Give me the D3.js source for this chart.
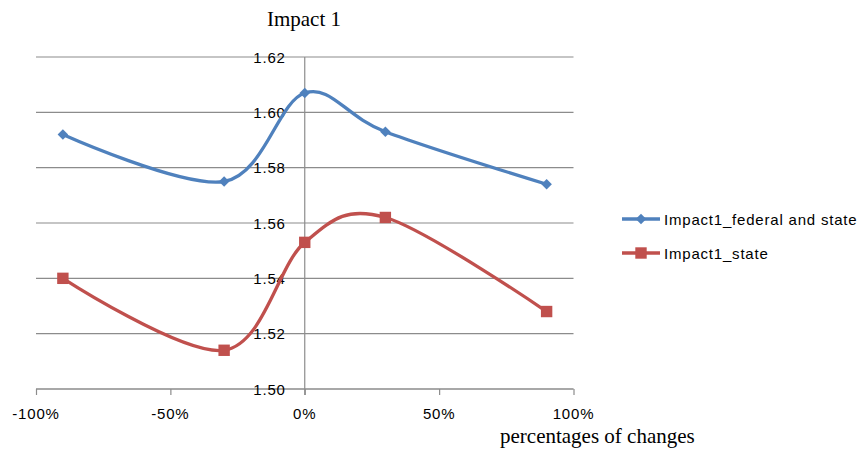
<!DOCTYPE html>
<html>
<head>
<meta charset="utf-8">
<script src="https://cdn.jsdelivr.net/npm/d3@7"></script>
<style>
  html, body { margin: 0; padding: 0; background: #fff; }
  svg { display: block; }
  .sans { font-family: "Liberation Sans", Arial, sans-serif; font-size: 15px; letter-spacing: 0.8px; fill: #000; }
  .serif { font-family: "Liberation Serif", "Times New Roman", serif; font-size: 21px; fill: #000; }
</style>
</head>
<body>
<svg id="chart" width="857" height="454"></svg>
<script>
// Percentage change on the x axis (as fractions)
const changes = [-0.9, -0.3, 0, 0.3, 0.9];
// Impact values for each series
const federalAndState = [1.592, 1.575, 1.607, 1.593, 1.574];
const stateOnly = [1.540, 1.514, 1.553, 1.562, 1.528];
const seriesNames = ["Impact1_federal and state", "Impact1_state"];
const seriesColors = ["#4F81BD", "#C0504D"];
const yTicks = [1.50, 1.52, 1.54, 1.56, 1.58, 1.60, 1.62];
const xTicks = [-1, -0.5, 0, 0.5, 1];

const svg = d3.select("#chart");
const plotLeft = 36, plotRight = 573.5, plotTop = 57, plotBottom = 389;

const x = d3.scaleLinear().domain([-1, 1]).range([plotLeft, plotRight]);
const y = d3.scaleLinear().domain([1.50, 1.62]).range([plotBottom, plotTop]);

// Percent labels with a plain hyphen for negatives
const pct = d => `${Math.round(d * 100)}%`;

// Horizontal gridlines
svg.append("g").selectAll("line").data(yTicks).join("line")
  .attr("x1", plotLeft).attr("x2", plotRight)
  .attr("y1", d => y(d)).attr("y2", d => y(d))
  .attr("stroke", "#8c8c8c").attr("stroke-width", 1.2);

// X axis (bottom) with outward ticks
const xAxis = d3.axisBottom(x).tickValues(xTicks).tickSize(6).tickFormat("");
const gx = svg.append("g").attr("transform", `translate(0,${plotBottom})`).call(xAxis);
gx.selectAll("path, line").attr("stroke", "#8c8c8c").attr("stroke-width", 1.2);
gx.select(".domain").attr("d", `M${plotLeft},0H${plotRight}`);

// X tick labels
svg.append("g").selectAll("text").data(xTicks).join("text")
  .attr("class", "sans")
  .attr("x", d => x(d)).attr("y", 413)
  .attr("text-anchor", "middle").attr("dominant-baseline", "central")
  .text(pct);

// Y axis crossing at 0%
svg.append("line")
  .attr("x1", x(0)).attr("x2", x(0))
  .attr("y1", plotTop).attr("y2", plotBottom + 6)
  .attr("stroke", "#8c8c8c").attr("stroke-width", 1.2);

// Y tick labels, sitting left of the vertical axis
svg.append("g").selectAll("text").data(yTicks).join("text")
  .attr("class", "sans")
  .attr("x", x(0) - 19).attr("y", d => y(d))
  .attr("text-anchor", "end").attr("dominant-baseline", "central")
  .text(d => d.toFixed(2));

// Smoothed series lines
const line = d3.line()
  .x(d => x(d[0])).y(d => y(d[1]))
  .curve(d3.curveCardinal.tension(0));

const seriesData = [federalAndState, stateOnly].map(vals => changes.map((c, i) => [c, vals[i]]));

seriesData.forEach((pts, si) => {
  svg.append("path")
    .datum(pts)
    .attr("fill", "none")
    .attr("stroke", seriesColors[si])
    .attr("stroke-width", 3.3)
    .attr("stroke-linejoin", "round")
    .attr("d", line);
});

// Markers: diamonds (rotated squares) for the first series, squares for the second
const square = d3.symbol().type(d3.symbolSquare).size(130);
const diamond = d3.symbol().type(d3.symbolSquare).size(55);
const markerTransform = (px, py, si) =>
  `translate(${px},${py})` + (si === 0 ? " rotate(45)" : "");

seriesData.forEach((pts, si) => {
  svg.append("g").selectAll("path").data(pts).join("path")
    .attr("transform", d => markerTransform(x(d[0]), y(d[1]), si))
    .attr("d", si === 0 ? diamond : square)
    .attr("fill", seriesColors[si]);
});

// Title
svg.append("text").attr("class", "serif")
  .attr("x", 304).attr("y", 26).attr("text-anchor", "middle")
  .text("Impact 1");

// X axis title
svg.append("text").attr("class", "serif")
  .attr("x", 500).attr("y", 443)
  .text("percentages of changes");

// Legend
const legend = svg.append("g");
seriesNames.forEach((name, i) => {
  const ly = 219 + i * 34;
  legend.append("line")
    .attr("x1", 622).attr("x2", 660).attr("y1", ly).attr("y2", ly)
    .attr("stroke", seriesColors[i]).attr("stroke-width", 3.3);
  legend.append("path")
    .attr("transform", markerTransform(641, ly, i))
    .attr("d", i === 0 ? diamond : square)
    .attr("fill", seriesColors[i]);
  legend.append("text").attr("class", "sans")
    .attr("x", 664).attr("y", ly).attr("dominant-baseline", "central")
    .text(name);
});
</script>
</body>
</html>
